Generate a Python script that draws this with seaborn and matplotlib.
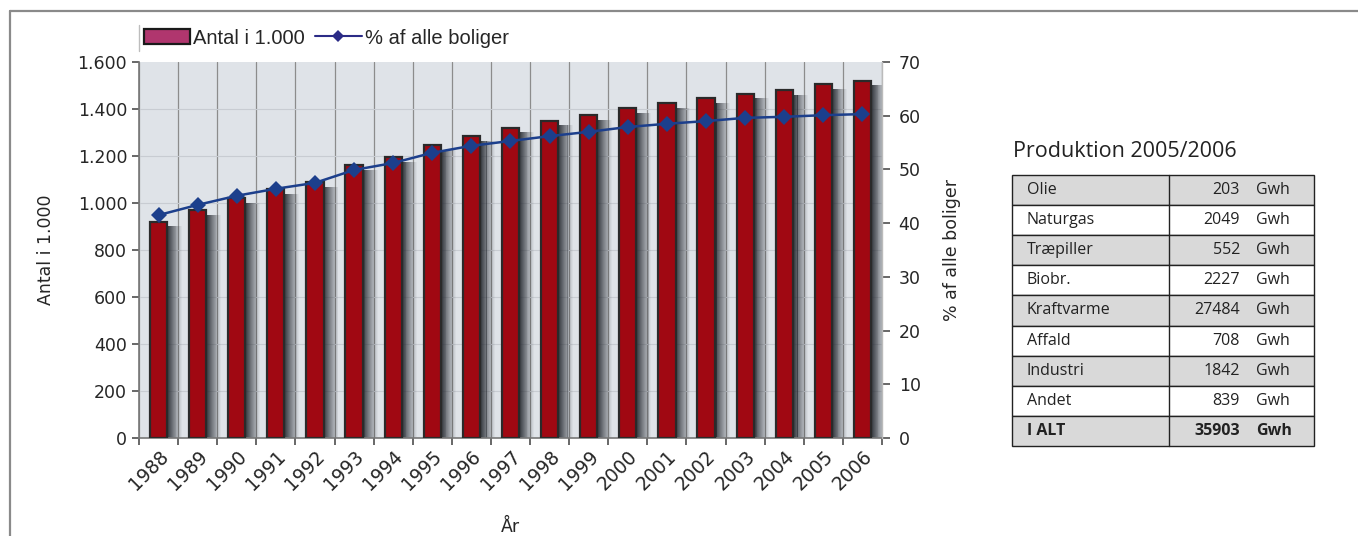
import numpy as np
import pandas as pd
import matplotlib
matplotlib.use("Agg")
import matplotlib.pyplot as plt
from matplotlib.patches import Rectangle
from matplotlib.lines import Line2D
from matplotlib.patches import Patch
import matplotlib.transforms as mtransforms
import seaborn as sns

# --- data -------------------------------------------------------------
years = [str(y) for y in range(1988, 2007)]
antal = [920, 970, 1020, 1060, 1090, 1160, 1195, 1245, 1285, 1320,
         1350, 1375, 1405, 1425, 1445, 1465, 1480, 1505, 1520]
pct_boliger = [41.5, 43.4, 45.1, 46.4, 47.5, 49.9, 51.2, 53.1, 54.4, 55.3,
               56.2, 57.0, 57.9, 58.5, 59.0, 59.6, 59.8, 60.1, 60.3]

table_title = "Produktion 2005/2006"
prod_names = ["Olie", "Naturgas", "Træpiller", "Biobr.", "Kraftvarme",
              "Affald", "Industri", "Andet", "I ALT"]
prod_gwh = [203, 2049, 552, 2227, 27484, 708, 1842, 839, 35903]
unit = "Gwh"

left_ticks = [0, 200, 400, 600, 800, 1000, 1200, 1400, 1600]
left_ticklabels = ["0", "200", "400", "600", "800", "1.000", "1.200", "1.400", "1.600"]
right_ticks = [0, 10, 20, 30, 40, 50, 60, 70]

# --- style ------------------------------------------------------------
sns.set_theme(style="white")
plt.rcParams["font.family"] = ["DejaVu Sans"]

bar_color = "#a00812"
line_color = "#1c3f8c"
bg_color = "#dfe3e8"
grid_color = "#8c8c8c"

W, H = 1358, 536
fig = plt.figure(figsize=(W / 100, H / 100), dpi=100)

def fx(px):
    return px / W

def fy(py):
    return 1 - py / H

# outer frame (left and top edges)
fig.add_artist(Line2D([fx(10), fx(10)], [fy(11), 0], color="#8a8a8a", lw=1.6))
fig.add_artist(Line2D([fx(10), 1], [fy(11), fy(11)], color="#8a8a8a", lw=1.6))

x0, x1, ytop, ybot = 139, 882, 62, 438
ax = fig.add_axes([fx(x0), fy(ybot), fx(x1 - x0), (ybot - ytop) / H])
ax.set_facecolor(bg_color)

df = pd.DataFrame({"year": years, "antal": antal, "pct": pct_boliger})
n = len(years)
xpos = np.arange(n)
bw = 0.44

# soft shadows to the right of each bar
steps = 16
sw = 0.38 / steps
for i in range(steps):
    ax.bar(xpos + bw / 2 + i * sw, np.array(antal) - 20, width=sw * 1.02,
           bottom=0, align="edge", color="#2a2e35",
           alpha=0.95 * (1 - i / steps) ** 1.1, linewidth=0, zorder=2)

sns.barplot(data=df, x="year", y="antal", color=bar_color, width=bw,
            edgecolor="#2a2a2a", linewidth=1.6, saturation=1, ax=ax, zorder=3)

ax.set_xlim(-0.5, n - 0.5)
ax.set_ylim(0, 1600)
ax.set_yticks(left_ticks)
ax.set_yticklabels(left_ticklabels)

# vertical grid at category boundaries, faint horizontal grid
for b in np.arange(-0.5, n, 1.0):
    ax.axvline(b, color=grid_color, lw=0.9, zorder=1)
for t in left_ticks[1:-1]:
    ax.axhline(t, color="#c8ccd2", lw=0.8, zorder=1)

ax.set_xticks(np.arange(-0.5, n, 1.0))
ax.set_xticklabels([])
ax.set_xticks(xpos, minor=True)
ax.set_xticklabels(years, minor=True, rotation=45, ha="right",
                   rotation_mode="anchor", fontsize=13.5)
offset = mtransforms.ScaledTranslation(15 / 100, -5 / 100, fig.dpi_scale_trans)
for lbl in ax.get_xticklabels(minor=True):
    lbl.set_transform(lbl.get_transform() + offset)
ax.tick_params(axis="x", which="minor", length=0, pad=6)
ax.tick_params(axis="x", which="major", length=5, color="#555555", direction="out")
ax.tick_params(axis="y", length=5, color="#555555", direction="out", labelsize=12.5)
ax.tick_params(bottom=True, left=True)
ax.set_xlabel("År", fontsize=12.5, labelpad=18)
ax.set_ylabel("Antal i 1.000", fontsize=12.5, labelpad=16)
for s in ["top", "right"]:
    ax.spines[s].set_visible(False)
for s in ["left", "bottom"]:
    ax.spines[s].set_color("#777777")
    ax.spines[s].set_linewidth(1.2)

ax2 = ax.twinx()
sns.lineplot(x=xpos, y=pct_boliger, ax=ax2, color=line_color, lw=1.8,
             marker="D", markersize=8, markeredgewidth=0, zorder=5)
ax2.set_ylim(0, 70)
ax2.set_yticks(right_ticks)
ax2.set_xlim(-0.5, n - 0.5)
ax2.tick_params(axis="y", length=6, color="#555555", direction="out",
                labelsize=12.5, right=True, pad=6)
ax2.set_ylabel("% af alle boliger", fontsize=12.5, labelpad=16)
for s in ["top", "left", "bottom"]:
    ax2.spines[s].set_visible(False)
ax2.spines["right"].set_color("#bbbbbb")
ax2.spines["right"].set_linewidth(1.0)

# legend above the plot
handles = [Patch(facecolor="#b0366e", edgecolor="#1a1a1a", linewidth=1.6),
           Line2D([0], [0], color="#2b2b86", lw=1.5, marker="D",
                  markersize=6, markeredgewidth=0)]
leg = fig.legend(handles, ["Antal i 1.000", "% af alle boliger"],
                 loc="center left", bbox_to_anchor=(fx(126), fy(38)),
                 ncol=2, frameon=False, handlelength=2.3,
                 handletextpad=0.15, columnspacing=0.5,
                 prop={"family": "Liberation Sans", "size": 14.5})
fig.add_artist(Line2D([fx(139), fx(139)], [fy(25), fy(51)], color="#bdbdbd", lw=1))

# production table
tx0, tx1, ty0, ty1 = 1012, 1314, 175, 446
tax = fig.add_axes([fx(tx0 - 2), fy(ty1 + 2), fx(tx1 - tx0 + 4), (ty1 - ty0 + 4) / H])
tax.set_xlim(tx0 - 2, tx1 + 2)
tax.set_ylim(ty1 + 2, ty0 - 2)
tax.axis("off")
rows = len(prod_names)
rh = (ty1 - ty0) / rows
tfont = ["Open Sans", "DejaVu Sans"]
for i, (name, val) in enumerate(zip(prod_names, prod_gwh)):
    top = ty0 + i * rh
    fc = "#d9d9d9" if i % 2 == 0 else "white"
    tax.add_patch(Rectangle((tx0, top), tx1 - tx0, rh, facecolor=fc,
                            edgecolor="#222222", lw=1.0))
    yc = top + rh / 2
    wt = "bold" if i == rows - 1 else "normal"
    tax.text(1027, yc, name, va="center", ha="left", fontsize=11.5,
             family=tfont, weight=wt, color="#222222")
    tax.text(1240, yc, str(val), va="center", ha="right", fontsize=11.5,
             family=tfont, weight=wt, color="#222222")
    tax.text(1256, yc, unit, va="center", ha="left", fontsize=11.5,
             family=tfont, weight=wt, color="#222222")
tax.plot([1169, 1169], [ty0, ty1], color="#222222", lw=1.0)
fig.text(fx(1013), fy(152), table_title, ha="left", va="center",
         fontsize=15.5, family=tfont, color="#222222")

fig.savefig("out.png", dpi=100)
